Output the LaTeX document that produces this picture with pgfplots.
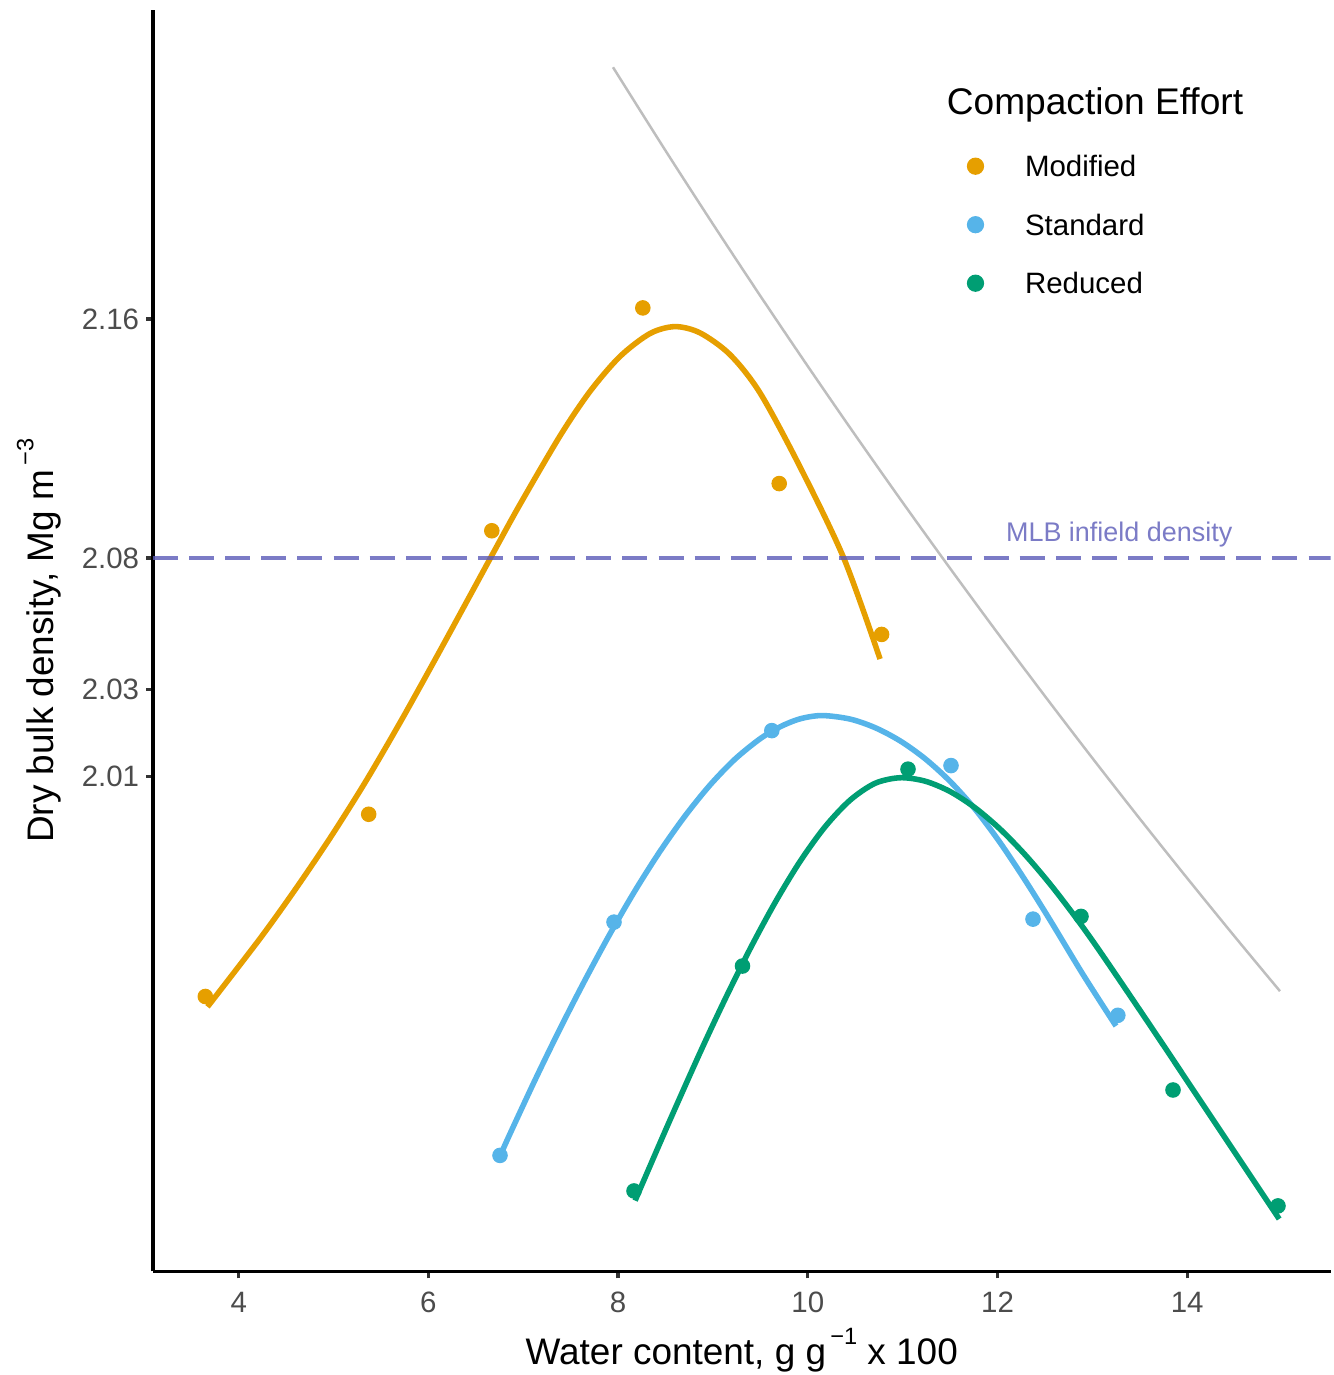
\documentclass[border=0pt]{standalone}
\usepackage{fontspec}
\setmainfont{Liberation Sans}
\usepackage{pgfplots}
\pgfplotsset{compat=1.18}
\definecolor{modc}{HTML}{E69F00}
\definecolor{stdc}{HTML}{56B4E9}
\definecolor{redc}{HTML}{009E73}
\definecolor{zav}{HTML}{BEBEBE}
\definecolor{mlb}{RGB}{90,90,184}
\definecolor{mlbtext}{RGB}{123,123,198}
\definecolor{ticklab}{gray}{0.3}
\definecolor{tickc}{gray}{0.2}
\begin{document}
\begin{tikzpicture}
\begin{axis}[
  scale only axis, width=423.9pt, height=454.1pt,
  xmin=3.0965, xmax=15.5107, ymin=1.84114, ymax=2.2634,
  axis x line=bottom, axis y line=left,
  axis line style={-, line width=1.2pt, black},
  tick align=outside,
  major tick length=2.5pt,
  tick style={line width=1.2pt, color=tickc},
  xtick={4,6,8,10,12,14}, xticklabels={4,6,8,10,12,14},
  ytick={2.00693,2.03605,2.08,2.16}, yticklabels={2.01,2.03,2.08,2.16},
  minor tick num=0,
  /pgf/number format/assume math mode=true,
  ticklabel style={font=\fontsize{10.6}{12}\selectfont, text=ticklab, inner sep=0pt},
  xticklabel style={anchor=north, yshift=-4.7pt},
  yticklabel style={anchor=east, xshift=-2.3pt},
  xlabel={Water content, g g\hspace{1.5pt}\raisebox{7.2pt}{\fontsize{8.5}{8.5}\selectfont −1} x 100},
  ylabel={Dry bulk density, Mg m\hspace{1.5pt}\raisebox{7.2pt}{\fontsize{8.5}{8.5}\selectfont −3}},
  label style={font=\fontsize{13.3}{15}\selectfont, inner sep=0pt},
  xlabel style={at={(axis description cs:0.5,-0.07377)}, anchor=base},
  ylabel style={at={(axis description cs:-0.0847,0.5)}, anchor=base},
  legend image code/.code={\fill[#1] (0pt,0pt) circle (2.9pt);},
  legend cell align=left,
  legend style={at={(axis description cs:0.6912,0.8846)}, anchor=north west,
    draw=none, fill=none, inner sep=0pt, outer sep=0pt,
    row sep=13.46pt, column sep=14.74pt,
    font=\fontsize{10.6}{12}\selectfont,
    nodes={inner sep=0pt, text height=7.6pt, text depth=0pt}},
]
% data points
\addplot[forget plot, only marks, mark=*, mark size=2.6pt, color=modc] coordinates {
 (3.648,1.9332) (5.3706,1.9942) (6.6684,2.0891) (8.2604,2.1637) (9.6985,2.1049) (10.778,2.0544)};
\addplot[forget plot, only marks, mark=*, mark size=2.6pt, color=stdc] coordinates {
 (6.7549,1.88) (7.9568,1.9581) (9.6205,2.0222) (11.5097,2.0105) (12.3742,1.9591) (13.2685,1.9269)};
\addplot[forget plot, only marks, mark=*, mark size=2.6pt, color=redc] coordinates {
 (8.1676,1.8681) (9.3115,1.9434) (11.0564,2.0093) (12.8803,1.96) (13.8503,1.9019) (14.957,1.8631)};
% fitted curves
\addplot[forget plot, no markers, smooth, line width=2pt, color=modc] coordinates {
 (3.6711,1.92974) (4.2246,1.95259) (4.5936,1.96890) (4.9626,1.98621) (5.3316,2.00479)
 (5.7006,2.02487) (6.0696,2.04593) (6.4386,2.06740) (6.7022,2.08278) (6.9657,2.09794)
 (7.3874,2.12084) (7.7037,2.13575) (8.0200,2.14745) (8.3363,2.15513) (8.5999,2.15744)
 (8.8635,2.15535) (9.1798,2.14807) (9.4961,2.13526) (9.9178,2.11049) (10.3823,2.07970)
 (10.7617,2.04616)};
\addplot[forget plot, no markers, smooth, line width=2pt, color=stdc] coordinates {
 (6.7654,1.88054) (6.8603,1.88723) (7.1239,1.90522) (7.3874,1.92238) (7.6510,1.93869)
 (7.9146,1.95417) (8.1782,1.96860) (8.4418,1.98179) (8.7053,1.99361) (8.9689,2.00397)
 (9.2325,2.01265) (9.4961,2.01945) (9.7069,2.02346) (9.9178,2.02614) (10.1497,2.02725)
 (10.4449,2.02607) (10.7085,2.02320) (10.9721,2.01879) (11.2357,2.01282) (11.4993,2.00524)
 (11.7629,1.99592) (12.0264,1.98474) (12.2900,1.97218) (12.5536,1.95880) (12.9015,1.94055)
 (13.2494,1.92331)};
\addplot[forget plot, no markers, smooth, line width=2pt, color=redc] coordinates {
 (8.1793,1.86487) (8.5156,1.88957) (8.8635,1.91438) (9.1271,1.93225) (9.3907,1.94910)
 (9.6542,1.96459) (9.9178,1.97839) (10.1814,1.98999) (10.4449,1.99890) (10.7085,2.00455)
 (10.9721,2.00643) (11.2357,2.00529) (11.4993,2.00182) (11.7629,1.99638) (12.0264,1.98927)
 (12.2900,1.98068) (12.5536,1.97086) (12.8170,1.95998) (13.0806,1.94827) (13.6078,1.92358)
 (14.1350,1.89848) (14.5567,1.87839) (14.9700,1.85871)};
% MLB line
\addplot[forget plot, no markers, color=mlb, opacity=0.8, line width=1.2pt, dash pattern=on 9pt off 4pt]
 coordinates {(3.0965,2.08) (15.5107,2.08)};
% zero air voids curve
\addplot[forget plot, no markers, smooth, color=zav, line width=0.9pt] coordinates {
 (7.946,2.24427) (8.5,2.21635) (9,2.19176) (9.5,2.16770) (10,2.14417) (10.5,2.12113)
 (11,2.09858) (11.5,2.07652) (12,2.05491) (12.5,2.03375) (13,2.01301) (13.5,1.99270)
 (14,1.97280) (14.5,1.95328) (14.978,1.93498)};
\node[anchor=base, inner sep=0pt, text=mlbtext, font=\fontsize{9.7}{12}\selectfont] at (axis cs:13.283,2.0854) {MLB infield density};
\node[anchor=base west, inner sep=0pt, font=\fontsize{13.35}{15}\selectfont] at (axis description cs:0.6738,0.9173) {Compaction Effort};
\addlegendimage{modc}\addlegendentry{Modified}
\addlegendimage{stdc}\addlegendentry{Standard}
\addlegendimage{redc}\addlegendentry{Reduced}
\end{axis}
\pgfresetboundingbox
\useasboundingbox (-55.08pt,-37.26pt) rectangle (424.8pt,457.74pt);
\end{tikzpicture}
\end{document}
